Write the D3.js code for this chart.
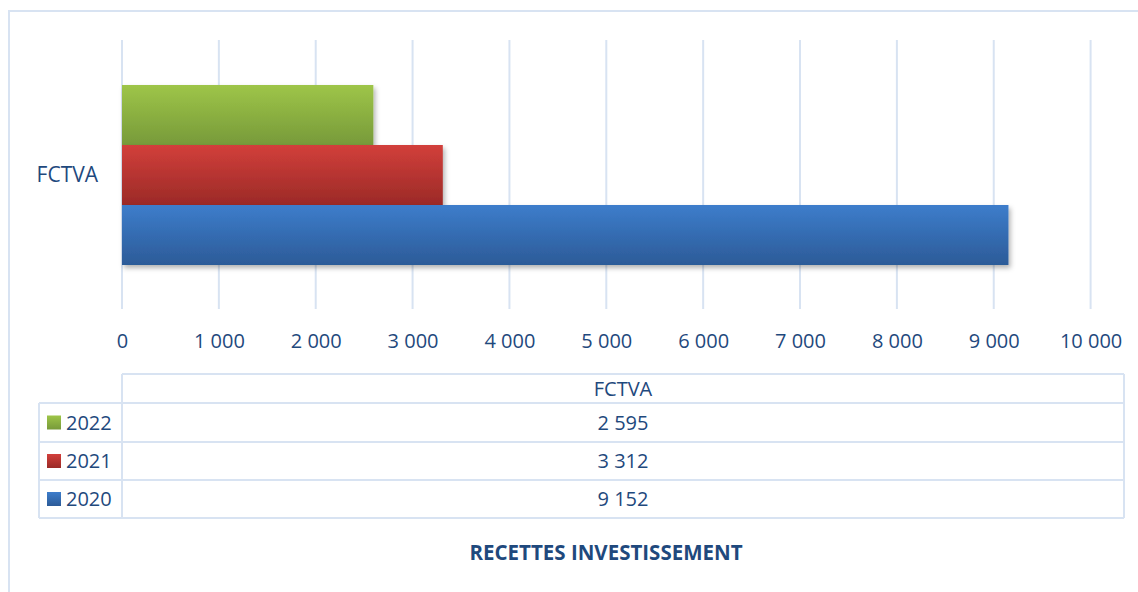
<!DOCTYPE html>
<html><head><meta charset="utf-8">
<script src="https://cdn.jsdelivr.net/npm/d3@7"></script>
<style>
html,body{margin:0;padding:0;background:#fff;overflow:hidden}
svg{display:block}
text{font-family:"Open Sans",sans-serif;fill:#1f497d}
</style></head>
<body>
<svg id="c" width="1138" height="592"></svg>
<script>
const categories = ["FCTVA"];
const series = ["2022", "2021", "2020"];
const values = [2595, 3312, 9152];
const valueLabels = ["2 595", "3 312", "9 152"];
const ticks = [0,1000,2000,3000,4000,5000,6000,7000,8000,9000,10000];
const title = "RECETTES INVESTISSEMENT";
const colorsTop = {"2022":"#9ec548","2021":"#d23f3b","2020":"#3d7dcb"};
const colorsBot = {"2022":"#779a3a","2021":"#9b2a27","2020":"#2c5b98"};

const svg = d3.select("#c");
const grid = "#d8e3f2";
const fmt = v => d3.format(",")(v).replace(/,/g, " ");

const defs = svg.append("defs");
series.forEach(s => {
  const g = defs.append("linearGradient").attr("id","g"+s).attr("x1",0).attr("y1",0).attr("x2",0).attr("y2",1);
  g.append("stop").attr("offset","0%").attr("stop-color",colorsTop[s]);
  g.append("stop").attr("offset","100%").attr("stop-color",colorsBot[s]);
});
const f = defs.append("filter").attr("id","sh").attr("x","-5%").attr("y","-20%").attr("width","115%").attr("height","160%");
f.append("feDropShadow").attr("dx",2).attr("dy",3).attr("stdDeviation",2.5).attr("flood-color","#000").attr("flood-opacity",0.3);

// chart frame
svg.append("path").attr("d","M9,600 V11 H1150").attr("fill","none").attr("stroke",grid).attr("stroke-width",2);

const x = d3.scaleLinear().domain([0,10000]).range([122,1090.6]);
const y = d3.scaleBand().domain(series).range([85,265]).padding(0);
const yc = d3.scaleBand().domain(categories).range([40,309]);

// gridlines
svg.append("g").selectAll("line").data(ticks).join("line")
  .attr("x1",d=>x(d)).attr("x2",d=>x(d)).attr("y1",40).attr("y2",309)
  .attr("stroke",grid).attr("stroke-width",2);

// bars
svg.append("g").selectAll("rect").data(series).join("rect")
  .attr("x",x(0)).attr("y",s=>y(s)).attr("height",y.bandwidth())
  .attr("width",(s,i)=>x(values[i])-x(0))
  .attr("fill",s=>"url(#g"+s+")").attr("filter","url(#sh)");

// category label
svg.append("g").selectAll("text").data(categories).join("text")
  .attr("x",98).attr("y",d=>yc(d)+yc.bandwidth()/2+7).attr("text-anchor","end")
  .attr("font-size",21).text(d=>d);

// x axis labels
const ax = svg.append("g").attr("transform","translate(0,348)").call(d3.axisBottom(x).tickValues(ticks).tickFormat(fmt).tickSize(0));
ax.select(".domain").remove();
ax.selectAll("text").attr("dy",0).attr("y",0).attr("font-size",20).attr("font-family","Open Sans").attr("fill","#1f497d");

// data table
const tL = 122, tR = 1124, lL = 39;
const rows = [374,403,442,480,518];
const tg = svg.append("g").attr("stroke",grid).attr("stroke-width",2).attr("fill","none");
tg.append("line").attr("x1",tL).attr("x2",tR).attr("y1",rows[0]).attr("y2",rows[0]);
rows.slice(1).forEach(r=>tg.append("line").attr("x1",lL).attr("x2",tR).attr("y1",r).attr("y2",r));
tg.append("line").attr("x1",tL).attr("x2",tL).attr("y1",rows[0]).attr("y2",rows[4]);
tg.append("line").attr("x1",tR).attr("x2",tR).attr("y1",rows[0]).attr("y2",rows[4]);
tg.append("line").attr("x1",lL).attr("x2",lL).attr("y1",rows[1]).attr("y2",rows[4]);

const cx = (tL+tR)/2;
svg.append("text").attr("x",cx).attr("y",(rows[0]+rows[1])/2+7).attr("text-anchor","middle").attr("font-size",20).text(categories[0]);
series.forEach((s,i)=>{
  const ym = (rows[i+1]+rows[i+2])/2;
  svg.append("text").attr("x",cx).attr("y",ym+7).attr("text-anchor","middle").attr("font-size",20).text(valueLabels[i]);
  svg.append("rect").attr("x",47).attr("y",ym-7).attr("width",14).attr("height",14).attr("fill","url(#g"+s+")");
  svg.append("text").attr("x",66).attr("y",ym+7).attr("font-size",20).text(s);
});

// title
svg.append("text").attr("x",606).attr("y",560).attr("text-anchor","middle").attr("font-size",20.5).attr("font-weight","bold").text(title);
</script>
</body></html>
